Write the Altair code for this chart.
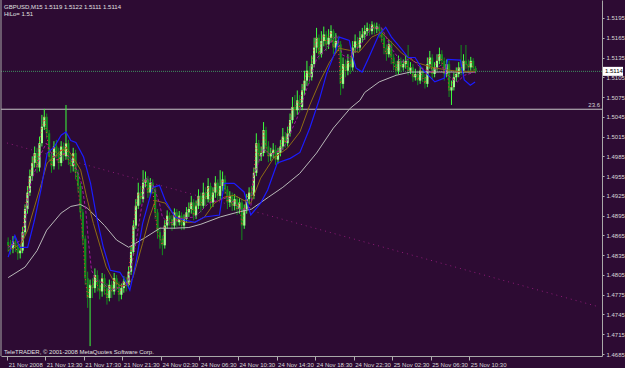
import altair as alt
import pandas as pd

# ---- data (prices in points, 1 point = 0.0001) ----
first_open = 14855
close = [
14850,14845,14856,14848,14838,14842,14870,14905,14930,14955,
14975,14990,14968,15005,15030,15045,15020,14985,14970,15000,
14990,14975,15000,14985,15005,14980,14970,14990,14960,14940,
14900,14860,14800,14770,14790,14785,14805,14790,14780,14800,
14785,14770,14790,14780,14800,14790,14775,14785,14795,14790,
14810,14840,14880,14910,14930,14920,14945,14950,14930,14945,
14935,14900,14870,14860,14850,14880,14895,14890,14880,14900,
14885,14895,14880,14890,14900,14905,14915,14895,14910,14925,
14910,14930,14920,14940,14915,14930,14945,14925,14940,14950,
14935,14915,14925,14910,14920,14905,14915,14880,14905,14920,
14930,14925,14960,15005,14985,14990,15025,15000,14985,14990,
14995,14980,14990,15000,15015,15005,15020,15040,15060,15055,
15070,15060,15085,15100,15115,15105,15125,15150,15165,15140,
15160,15170,15155,15165,15175,15150,15160,15155,15095,15125,
15115,15130,15120,15150,15160,15150,15165,15170,15175,15180,
15175,15185,15178,15182,15175,15165,15150,15140,15155,15135,
15125,15115,15130,15120,15125,15130,15115,15120,15105,15110,
15100,15115,15105,15095,15125,15135,15110,15120,15130,15140,
15130,15110,15125,15085,15090,15105,15110,15120,15115,15130,
15125,15120,15130,15119,15114]
high = [
14862,14858,14864,14862,14855,14850,14878,14912,14940,14965,
14985,15000,14998,15015,15048,15057,15050,15025,14992,15008,
15010,14998,15008,15006,15063,15010,14988,14998,14995,14965,
14945,14905,14865,14810,14798,14800,14815,14812,14798,14808,
14806,14792,14798,14796,14808,14805,14795,14792,14803,14802,
14818,14848,14888,14920,14945,14940,14964,14962,14955,14952,
14950,14940,14905,14878,14865,14888,14903,14900,14896,14906,
14905,14902,14900,14897,14908,14915,14925,14920,14918,14935,
14930,14945,14938,14952,14945,14938,14955,14950,14964,14962,
14956,14940,14932,14930,14928,14925,14922,14920,14912,14928,
14938,14940,14968,15020,15010,15000,15037,15030,15008,14998,
15005,15002,14998,15010,15028,15022,15030,15050,15075,15078,
15085,15078,15095,15115,15130,15122,15138,15165,15180,15170,
15175,15182,15175,15178,15184,15178,15172,15168,15160,15135,
15132,15140,15138,15160,15170,15166,15175,15180,15184,15188,
15186,15190,15188,15188,15186,15180,15170,15155,15162,15160,
15140,15130,15138,15135,15132,15138,15154,15128,15125,15118,
15115,15122,15120,15110,15135,15145,15140,15128,15140,15150,
15146,15135,15132,15130,15100,15112,15120,15128,15154,15140,
15154,15132,15136,15134,15122]
low = [
14840,14836,14838,14840,14828,14830,14838,14865,14898,14925,
14948,14968,14960,14962,15000,15025,15012,14978,14960,14965,
14982,14965,14970,14978,14980,14972,14960,14962,14950,14930,
14890,14850,14790,14755,14697,14770,14778,14780,14768,14772,
14775,14760,14765,14770,14775,14782,14765,14768,14778,14780,
14785,14805,14835,14875,14905,14912,14915,14938,14922,14925,
14928,14890,14860,14845,14835,14845,14875,14880,14872,14875,
14878,14880,14873,14874,14884,14893,14898,14888,14890,14905,
14900,14905,14910,14915,14905,14908,14922,14918,14920,14932,
14928,14905,14908,14902,14903,14896,14898,14858,14875,14898,
14912,14918,14920,14955,14975,14978,14985,14990,14976,14978,
14982,14972,14974,14985,14995,14998,15000,15015,15035,15045,
15048,15052,15055,15078,15092,15095,15100,15120,15142,15132,
15135,15152,15145,15148,15158,15140,15142,15145,15078,15088,
15105,15108,15110,15115,15142,15143,15145,15158,15162,15168,
15168,15170,15170,15172,15165,15158,15140,15130,15135,15125,
15116,15108,15110,15112,15115,15118,15108,15110,15098,15100,
15093,15095,15098,15088,15090,15118,15102,15105,15115,15125,
15122,15100,15105,15075,15063,15085,15098,15105,15108,15110,
15118,15112,15115,15112,15111]

# long moving average (light grey)
ma_grey_bar = [0,7,12,16,22,26,30,33,40,45,50,57,63,69,75,80,88,95,101,108,114,121,128,135,142,146,148,154,161,167,179,194]
ma_grey_val = [14801,14817,14842,14873,14899,14909,14912,14906,14880,14858,14847,14862,14876,14876,14877,14882,14893,14900,14905,14923,14938,14959,14990,15028,15058,15070,15082,15098,15108,15113,15113,15113]
# blue line
blue_bar = [0,2.8,4.8,8.1,10.9,13.8,16.2,19.1,22,24,26,28.1,31.3,34.2,36.7,39.5,42.4,46.4,48.5,50.5,53,55.8,60,62.8,65.2,69.3,73.4,77.5,81.5,87.7,89.7,93.8,97.9,100.7,104.8,107.7,111.7,117.1,121.1,125.2,129.3,132.2,136.2,137.4,141.6,142.8,144.4,146.9,149.7,153.8,156.7,159.1,163.2,166,168.9,172,177.1,181.1,182.4,187.7,189.3,191.8,193.8]
blue_val = [14832,14865,14847,14847,14888,14938,14990,14999,15017,15022,15009,15006,14984,14944,14893,14847,14812,14809,14797,14782,14823,14883,14938,14941,14918,14893,14888,14885,14893,14896,14944,14944,14931,14896,14914,14934,14975,14982,14991,15028,15073,15111,15148,15166,15161,15139,15119,15113,15135,15169,15181,15166,15148,15135,15135,15117,15098,15104,15132,15131,15101,15093,15098]
# olive moving average
olive_bar = [0,2.8,5.6,8.1,10.9,13.8,16.2,19.1,22,24.4,27.3,30.1,32.6,35.4,38.3,40.7,43.6,46.4,49.7,51.8,55.8,58.7,61.1,65.2,69.3,73.4,77.5,81.5,85.6,89.7,93.8,97.9,100.7,104.8,110.1,115.8,121.1,125.2,129.3,133.4,137.4,141.6,145.6,150.9,155,159.1,163.2,168.9,177.1,186.5,193.8]
olive_val = [14842,14847,14853,14873,14908,14944,14975,14984,14994,14997,14982,14964,14923,14883,14847,14817,14797,14789,14789,14801,14853,14893,14918,14914,14893,14885,14885,14893,14914,14923,14926,14918,14914,14952,14982,14997,15022,15063,15098,15128,15149,15146,15143,15166,15173,15158,15142,15128,15119,15114,15114]
# magenta (dashed) moving average
mag_bar = [0,5.6,6.9,8.1,9.7,11.8,13.8,15.8,17.9,20.3,23.2,26,28.5,30.5,32.2,33.4,34.6,36.7,39.5,42.4,46.4,49.7,53,55.8,57,59.9,62.8,64,66.9,72.2,77.5,80.3,83.2,87.3,91.3,96.7,100.7,102,106,108.9,114.2,119.9,124,128.1,132.2,136.2,138.7,141.6,145.6,150.9,155,159.1,163.2,167.3,171.3,175.4,179.5,183.6,186.5,189.3,193.8]
mag_val = [14847,14858,14877,14918,14949,14969,14990,15005,14990,14979,14990,14982,14964,14944,14903,14853,14812,14797,14792,14782,14786,14792,14853,14918,14953,14944,14914,14893,14883,14891,14893,14903,14914,14918,14923,14903,14908,14956,14997,14987,14997,15043,15088,15134,15149,15169,15139,15134,15152,15180,15180,15149,15128,15134,15119,15113,15123,15104,15098,15108,15113]
# trend line anchors and levels
trend_bar = [-0.5, 244]
trend_val = [15005.3, 14757.8]
current_price = 1.5114
fib_level = 1.50565
fib_label = "23.6"

y_ticks = [1.4685,1.4715,1.4745,1.4775,1.4805,1.4835,1.4865,1.4895,1.4925,1.4955,
           1.4985,1.5015,1.5045,1.5075,1.5105,1.5135,1.5165,1.5195]
time_labels = ["21 Nov 2008","21 Nov 13:30","21 Nov 17:30","21 Nov 21:30","24 Nov 02:30",
               "24 Nov 06:30","24 Nov 10:30","24 Nov 14:30","24 Nov 18:30","24 Nov 22:30",
               "25 Nov 02:30","25 Nov 06:30","25 Nov 10:30"]
time_tick_bars = [-0.4,15.4,31.4,47.4,63.4,79.4,95.4,111.4,127.4,143.4,159.4,175.4,191.4]
title_text = "GBPUSD,M15  1.5119 1.5122 1.5111 1.5114"
hilo_text = "HiLo= 1.51"
copyright_text = "TeleTRADER, \u00a9 2001-2008 MetaQuotes Software Corp."

# ---- tables ----
opens = [first_open] + close[:-1]
candles = pd.DataFrame({
    "bar": list(range(len(close))),
    "open": [v / 10000 for v in opens],
    "close": [v / 10000 for v in close],
    "high": [v / 10000 for v in high],
    "low": [v / 10000 for v in low],
})
candles["bull"] = candles["close"] >= candles["open"]

def line_df(b, v):
    return pd.DataFrame({"bar": b, "price": [p / 10000 for p in v]})

BG = "#2d0b33"
FONT = "Liberation Sans"
xs = alt.Scale(domain=[-0.898, 244.4], nice=False, zero=False)
ys = alt.Scale(domain=[1.46820, 1.52223], nice=False, zero=False)
label_js = "[" + ",".join("'%s'" % t for t in time_labels) + "]"
xaxis = alt.Axis(values=time_tick_bars, labelExpr=label_js + "[round((datum.value+0.6)/16)]",
                 title=None, grid=False, labelAlign="left", labelBaseline="top",
                 labelFontSize=6, labelFont=FONT, labelColor="#d8d8d8", labelPadding=1,
                 labelOffset=1, tickSize=4, tickColor="#b0b0b0", domainColor="#a8a8a8",
                 labelOverlap=False, labelFlush=False)
yaxis = alt.Axis(orient="right", values=y_ticks, format=".4f", title=None, grid=False,
                 labelFontSize=6, labelFont=FONT, labelColor="#d8d8d8", labelPadding=2,
                 tickSize=2, tickColor="#b0b0b0", domainColor="#a8a8a8", labelOverlap=False,
                 labelFlush=False)

def X(f):
    return alt.X(f, type="quantitative", scale=xs, axis=xaxis)

def Y(f):
    return alt.Y(f, type="quantitative", scale=ys, axis=yaxis)

bull_col = "#3cff3c"
bear_col = "#138f1c"

wicks = alt.Chart(candles).mark_rule(strokeWidth=1).encode(
    x=X("bar"), y=Y("low"), y2="high",
    color=alt.condition("datum.bull", alt.value(bull_col), alt.value(bear_col)))
bodies = alt.Chart(candles).mark_bar(size=2.2).encode(
    x=X("bar"), y=Y("open"), y2="close",
    color=alt.condition("datum.bull", alt.value("#9dff8a"), alt.value(bear_col)))

red = alt.Chart(candles).mark_line(color="#ff3030", strokeWidth=1, strokeDash=[1, 3]).encode(
    x=X("bar"), y=Y("close"))

grey = alt.Chart(line_df(ma_grey_bar, ma_grey_val)).mark_line(color="#b8b8b8", strokeWidth=1).encode(
    x=X("bar"), y=Y("price"))
blue = alt.Chart(line_df(blue_bar, blue_val)).mark_line(color="#1c1cff", strokeWidth=1.2).encode(
    x=X("bar"), y=Y("price"))
olive = alt.Chart(line_df(olive_bar, olive_val)).mark_line(color="#8e6c14", strokeWidth=1).encode(
    x=X("bar"), y=Y("price"))
mag = alt.Chart(line_df(mag_bar, mag_val)).mark_line(color="#a0189a", strokeWidth=1, strokeDash=[3, 2]).encode(
    x=X("bar"), y=Y("price"))
trend = alt.Chart(line_df(trend_bar, trend_val)).mark_line(color="#8e1a78", strokeWidth=1, strokeDash=[1, 4]).encode(
    x=X("bar"), y=Y("price"))

lv = pd.DataFrame({"price": [current_price], "fib": [fib_level], "lab": ["%.4f" % current_price], "fl": [fib_label]})
cur_line = alt.Chart(lv).mark_rule(color="#3f8f60", strokeWidth=1, strokeDash=[1, 1]).encode(
    y=Y("price"), x=alt.value(0), x2=alt.value(601))
fib_line = alt.Chart(lv).mark_rule(color="#c8c8c8", strokeWidth=1).encode(
    y=Y("fib"), x=alt.value(0), x2=alt.value(601))
fib_text = alt.Chart(lv).mark_text(align="right", baseline="bottom", dy=-1, fontSize=6, font=FONT,
                                   color="#d8d8d8").encode(y=Y("fib"), x=alt.value(599), text="fl:N")
box = alt.Chart(lv).mark_rule(color="#ffffff", strokeWidth=9).encode(
    y=Y("price"), x=alt.value(602), x2=alt.value(622))
box_text = alt.Chart(lv).mark_text(align="left", baseline="middle", fontSize=6, font=FONT,
                                   color="#000000").encode(y=Y("price"), x=alt.value(604), text="lab:N")

td = pd.DataFrame({"t": [title_text], "h": [hilo_text], "c": [copyright_text]})
t1 = alt.Chart(td).mark_text(align="left", baseline="alphabetic", fontSize=6, font=FONT, color="#e0e0e0").encode(
    x=alt.value(3), y=alt.value(9), text="t:N")
t2 = alt.Chart(td).mark_text(align="left", baseline="alphabetic", fontSize=6, font=FONT, color="#e0e0e0").encode(
    x=alt.value(3), y=alt.value(16), text="h:N")
t3 = alt.Chart(td).mark_text(align="left", baseline="alphabetic", fontSize=6, font=FONT, color="#e0e0e0").encode(
    x=alt.value(3), y=alt.value(354), text="c:N")
left_border = alt.Chart(td).mark_rule(color="#a8a8a8", strokeWidth=1).encode(
    x=alt.value(0), y=alt.value(0), y2=alt.value(356))

chart = alt.layer(
    trend, fib_line, cur_line, wicks, bodies, grey, olive, blue, mag, red,
    fib_text, box, box_text, t1, t2, t3, left_border
).properties(
    width=601, height=356,
    padding={"left": 1, "top": 0, "right": 23, "bottom": 12},
    autosize=alt.AutoSizeParams(type="none"),
    background=BG,
).configure_view(stroke=None, fill=BG)

chart.save("out.html", embed_options={"renderer": "svg", "actions": False})
